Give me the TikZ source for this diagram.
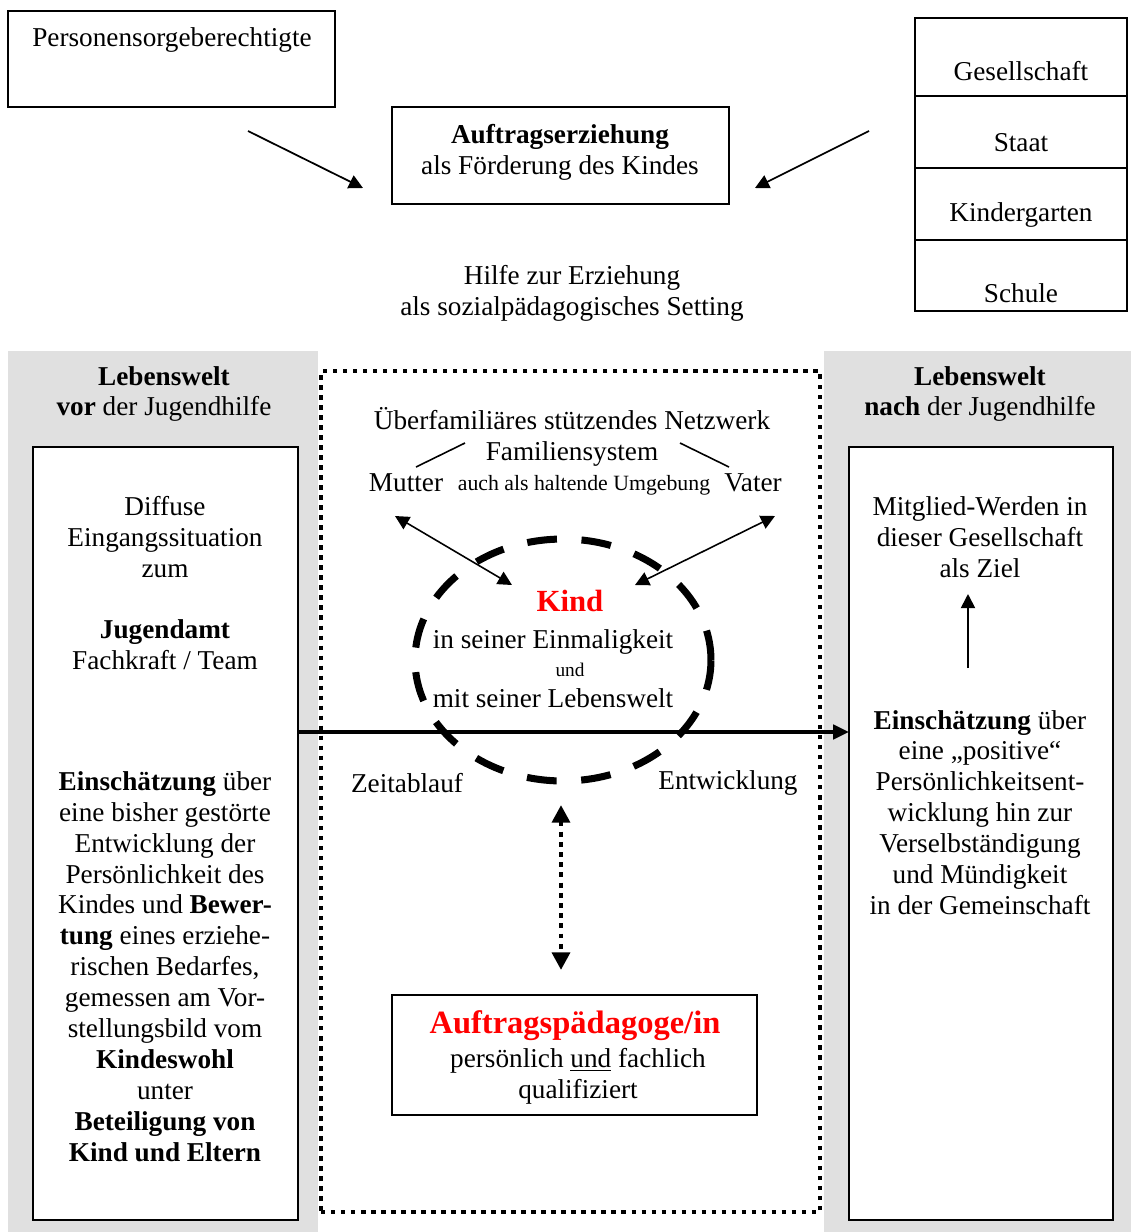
\documentclass[tikz,border=0pt]{standalone}
\usepackage{fontspec}
\setmainfont{Liberation Serif}
\usetikzlibrary{shapes, arrows.meta, positioning}
\tikzstyle{box}=[draw,rectangle,line width=1pt,inner sep=0pt]
\tikzstyle{bigbox}=[draw,rectangle,line width=1.4pt,fill=white,inner sep=0pt]
\tikzstyle{panel}=[fill=black!12]
\tikzstyle{every node}=[font=\fontsize{15.5}{17.6}\selectfont]

\begin{document}
\begin{tikzpicture}[x=0.02cm,y=-0.02cm,>={Triangle[length=8pt,width=8pt]},inner sep=0pt,align=center]
  \useasboundingbox (0,0) rectangle (1131,1232);
  % oben
  \node[box,minimum width=6.54cm,minimum height=1.92cm] (pers) at (171.5,59) {};
  \node (persText) at (172,40) {Personensorgeberechtigte};
  \node[box,minimum width=6.74cm,minimum height=1.94cm] (auftrag) at (560.5,155.5) {};
  \node (auftragText) at (560,152) {\textbf{Auftragserziehung}\\als Förderung des Kindes};
  \node[box,minimum width=4.24cm,minimum height=1.56cm] (gesell) at (1021,57) {};
  \node[box,minimum width=4.24cm,minimum height=1.44cm] (staat) at (1021,132) {};
  \node[box,minimum width=4.24cm,minimum height=1.44cm] (kiga) at (1021,204) {};
  \node[box,minimum width=4.24cm,minimum height=1.42cm] (schule) at (1021,275.5) {};
  \node at (1021,71) {Gesellschaft};
  \node at (1021,143) {Staat};
  \node at (1021,215) {Kindergarten};
  \node at (1021,293) {Schule};
  \coordinate (persOut) at (248,131);
  \coordinate (auftragL) at (363,188);
  \coordinate (gesellOut) at (869,131);
  \coordinate (auftragR) at (755,188);
  \draw[->,line width=1pt] (persOut) -- (auftragL);
  \draw[->,line width=1pt] (gesellOut) -- (auftragR);
  \node (hilfe) at (572,293) {Hilfe zur Erziehung\\als sozialpädagogisches Setting};

  % Lebenswelten
  \fill[panel] (8,351) rectangle (318,1232);
  \fill[panel] (824,351) rectangle (1131,1232);
  \node (vorHead) at (164,394) {\textbf{Lebenswelt}\\\textbf{vor} der Jugendhilfe};
  \node (nachHead) at (980,394) {\textbf{Lebenswelt}\\\textbf{nach} der Jugendhilfe};
  \node[bigbox,minimum width=5.3cm,minimum height=15.46cm] (vorBox) at (165.5,833.5) {};
  \node[bigbox,minimum width=5.28cm,minimum height=15.46cm] (nachBox) at (981,833.5) {};
  \node[draw,line width=2.5pt,dash pattern=on 2.5pt off 3.2pt,minimum width=9.98cm,minimum height=16.82cm] (mitte) at (570.5,791.5) {};

  \node at (165,537) {Diffuse\\Eingangssituation\\zum};
  \node at (165,644.5) {\textbf{Jugendamt}\\Fachkraft / Team};
  \node at (165,966.5) {\textbf{Einschätzung} über\\eine bisher gestörte\\Entwicklung der\\Persönlichkeit des\\Kindes und \textbf{Bewer-}\\\textbf{tung} eines erziehe-\\rischen Bedarfes,\\gemessen am Vor-\\stellungsbild vom\\\textbf{Kindeswohl}\\unter\\\textbf{Beteiligung von}\\\textbf{Kind und Eltern}};

  \node (ziel) at (980,537) {Mitglied-Werden in\\dieser Gesellschaft\\als Ziel};
  \coordinate (zielLow) at (968,668);
  \coordinate (zielUp) at (968,594);
  \draw[->,line width=1pt] (zielLow) -- (zielUp);
  \node (positiv) at (980,812.5) {\textbf{Einschätzung} über\\eine „positive“\\Persönlichkeitsent-\\wicklung hin zur\\Verselbständigung\\und Mündigkeit\\in der Gemeinschaft};

  % Mitte
  \node (netz) at (572,437) {Überfamiliäres stützendes Netzwerk\\Familiensystem};
  \node (mutter) at (406,483) {Mutter};
  \node[font=\fontsize{12.4}{14}\selectfont] (umgebung) at (584,485) {auch als haltende Umgebung};
  \node (vater) at (753,483) {Vater};
  \coordinate (mL1) at (416,467);
  \coordinate (mL2) at (465,443);
  \coordinate (vL1) at (680,443);
  \coordinate (vL2) at (729,467);
  \draw[line width=0.9pt] (mL1) -- (mL2);
  \draw[line width=0.9pt] (vL1) -- (vL2);

  \node[draw,ellipse,line width=4pt,dash pattern=on 17pt off 14pt,minimum width=5.92cm,minimum height=4.84cm] (kindOval) at (563,660) {};
  \coordinate (mutterA) at (395,516);
  \coordinate (kindL) at (512,585);
  \coordinate (vaterA) at (775,516);
  \coordinate (kindR) at (635,585);
  \draw[<->,line width=0.9pt] (mutterA) -- (kindL);
  \draw[<->,line width=0.9pt] (vaterA) -- (kindR);
  \node[text=red,font=\fontsize{17.5}{20}\selectfont\bfseries] (kind) at (570,601) {Kind};
  \node (einmal) at (553,642) {in seiner Einmaligkeit};
  \node[font=\fontsize{11}{12}\selectfont] (und) at (570,670) {und};
  \node (lebenswelt) at (553,698) {mit seiner Lebenswelt};

  \coordinate (zeitL) at (298,732);
  \coordinate (zeitR) at (849,732);
  \draw[-{Triangle[length=9pt,width=8pt]},line width=2.3pt] (zeitL) -- (zeitR);
  \node (zeit) at (407,783) {Zeitablauf};
  \node (entw) at (728,783) {Entwicklung};

  \coordinate (kindLow) at (561,805);
  \coordinate (paedUp) at (561,970);
  \draw[{Triangle[length=10pt,width=10pt]}-{Triangle[length=10pt,width=10pt]},line width=2.8pt,dash pattern=on 2.8pt off 3pt] (kindLow) -- (paedUp);

  \node[box,minimum width=7.3cm,minimum height=2.4cm] (paed) at (574.5,1055) {};
  \node[text=red,font=\fontsize{18.5}{21}\selectfont\bfseries] (paedTitle) at (575,1026) {Auftragspädagoge/in};
  \node (paedText) at (578,1076) {persönlich \underline{und} fachlich\\qualifiziert};
\end{tikzpicture}
\end{document}
